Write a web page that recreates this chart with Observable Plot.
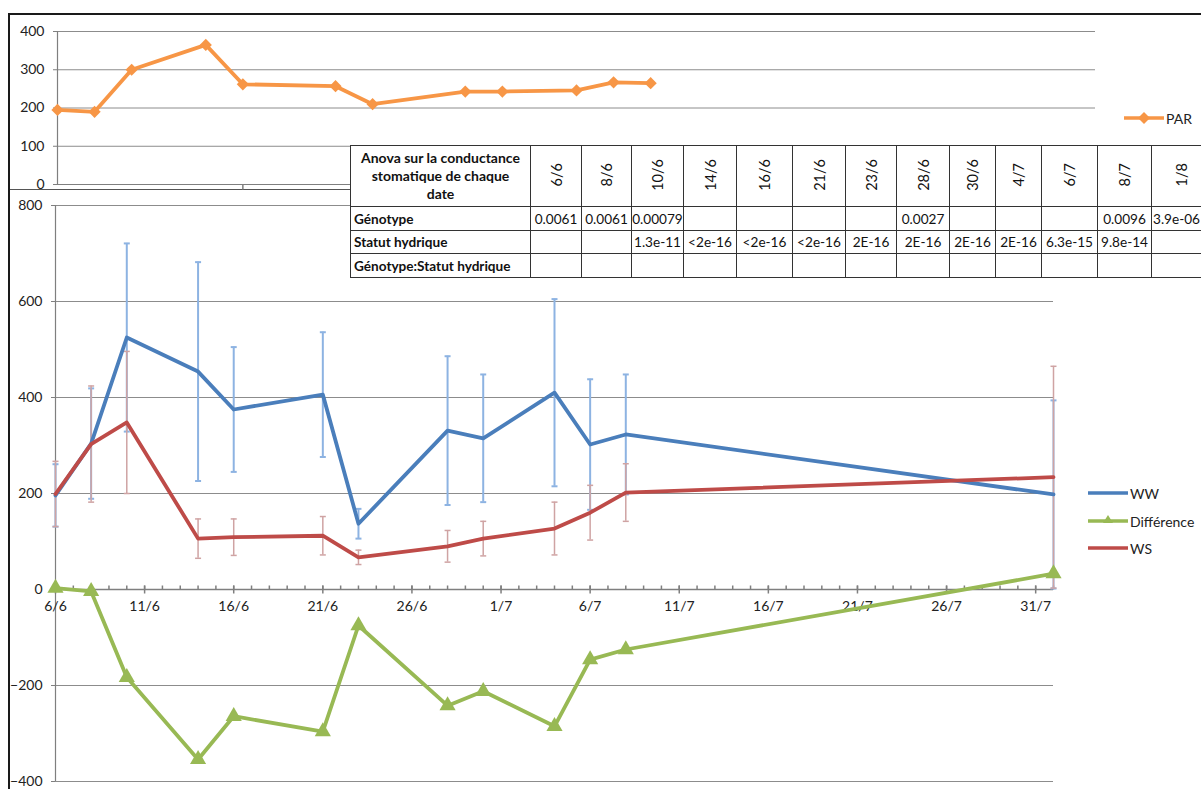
<!DOCTYPE html>
<html>
<head>
<meta charset="utf-8">
<script src="https://cdn.jsdelivr.net/npm/d3@7"></script>
<script src="https://cdn.jsdelivr.net/npm/@observablehq/plot@0.6"></script>
<style>
  body { margin:0; background:#fff; width:1201px; height:789px; overflow:hidden; position:relative; font-family: Lato, "Open Sans", sans-serif; }
  .abs { position:absolute; }
  #frameTop { left:8px; top:13px; width:1300px; height:174px; border-top:2px solid #1a1a1a; border-left:2px solid #1a1a1a; border-bottom:1px solid #555; }
  #frameMain { left:8px; top:188px; width:1300px; height:700px; border-left:2px solid #1a1a1a; }
  #top { left:0; top:0; }
  #main { left:0; top:190px; }
  #anova { left:350px; top:145px; border-collapse:collapse; table-layout:fixed; background:#fff; font-size:13.6px; color:#111; }
  #anova td { border:1px solid #333; padding:0; text-align:center; white-space:nowrap; overflow:hidden; }
  #anova td.lab { text-align:left; font-weight:bold; padding-left:3px; }
  #anova td.title { font-weight:bold; white-space:normal; line-height:18px; font-size:14px; }
  #anova td.last { text-align:left; padding-left:1px; }
  #anova .rot { writing-mode:vertical-rl; transform:rotate(180deg); display:inline-block; font-size:14.5px; }
  .legend { font-size:14px; color:#222; display:flex; align-items:center; height:16px; }
</style>
</head>
<body>
<div id="frameTop" class="abs"></div>
<div id="frameMain" class="abs"></div>
<div id="top" class="abs"></div>
<div id="main" class="abs"></div>
<div id="tableHolder"></div>
<div id="legends"></div>
<script>
// ---------- data ----------
const dates = ["2013-06-06","2013-06-08","2013-06-10","2013-06-14","2013-06-16","2013-06-21","2013-06-23","2013-06-28","2013-06-30","2013-07-04","2013-07-06","2013-07-08","2013-08-01"];
const tableDates = ["6/6","8/6","10/6","14/6","16/6","21/6","23/6","28/6","30/6","4/7","6/7","8/7","1/8"];
const ww     = [196, 304, 525, 454, 375, 406, 137, 331, 315, 410, 302, 323, 198];
const wwErr  = [ 65, 115, 196, 228, 130, 130,  31, 155, 133, 195, 136, 125, 196];
const ws     = [199, 303, 348, 106, 109, 112,  67,  90, 106, 127, 160, 202, 234];
const wsErr  = [ 68, 121, 148,  41,  38,  40,  15,  33,  36,  55,  57,  60, 231];
const diff   = [  3,  -4,-183,-354,-264,-296, -75,-242,-212,-285,-146,-125,  33];
const par    = [195, 190, 300, 365, 262, 257, 210, 243, 243, 246, 267, 265, null];
const yTicksMain = [-400, -200, 0, 200, 400, 600, 800];
const yTicksPar  = [0, 100, 200, 300, 400];
const tableTitle = "Anova sur la conductance<br>stomatique de chaque<br>date";
const rowLabels = ["Génotype", "Statut hydrique", "Génotype:Statut hydrique"];
const pGenotype = ["0.0061","0.0061","0.00079","","","","","0.0027","","","","0.0096","3.9e-06"];
const pStatut   = ["","","1.3e-11","<2e-16","<2e-16","<2e-16","2E-16","2E-16","2E-16","2E-16","6.3e-15","9.8e-14",""];
const pInter    = ["","","","","","","","","","","","",""];
const seriesNames = ["WW", "Différence", "WS"];

// ---------- styles ----------
const C = { ww:"#4A7EBB", ws:"#BE4B48", diff:"#98B954", par:"#F79646", wwErr:"#8DB3E2", wsErr:"#CFA3A3", grid:"#8c8c8c", axis:"#7f7f7f" };
const parseDate = s => new Date(s + "T00:00:00Z");
const xStart = parseDate(dates[0]);
const xEnd = parseDate(dates[dates.length - 1]);
const rows = dates.map((d, i) => ({date: parseDate(d), ww: ww[i], wwErr: wwErr[i], ws: ws[i], wsErr: wsErr[i], diff: diff[i], par: par[i]}));
const fmt = d3.utcFormat("%-d/%-m");

const hbar = { draw(ctx, size) { const r = Math.sqrt(size / Math.PI); ctx.moveTo(-r, 0); ctx.lineTo(r, 0); } };
const vbar = { draw(ctx, size) { const r = Math.sqrt(size / Math.PI); ctx.moveTo(0, -r); ctx.lineTo(0, r); } };

const baseStyle = { background: "none", fontFamily: "Lato, 'Open Sans', sans-serif", fontSize: "14px", color: "#222", overflow: "visible" };

// ---------- top PAR chart ----------
const topChart = Plot.plot({
  width: 1201, height: 190,
  marginLeft: 57, marginRight: 106, marginTop: 31, marginBottom: 6,
  style: baseStyle,
  x: { type: "utc", domain: [xStart, xEnd], axis: null },
  y: { domain: [0, 400], axis: null },
  marks: [
    Plot.gridY(yTicksPar.filter(v => v !== 0), { stroke: C.grid, strokeOpacity: 1 }),
    Plot.ruleY([0], { stroke: C.axis, strokeWidth: 1.2 }),
    Plot.ruleX([xStart], { stroke: C.axis, strokeWidth: 1.2 }),
    Plot.axisY(yTicksPar, { tickSize: 4, tickPadding: 9, label: null, stroke: C.axis }),
    Plot.dot(d3.utcDay.range(xStart, xEnd, 10).slice(1), { x: d => d, y: 0, symbol: vbar, r: 2.5, dy: 2.5, stroke: C.axis }),
    Plot.line(rows.filter(d => d.par != null), { x: "date", y: "par", stroke: C.par, strokeWidth: 3.8 }),
    Plot.dot(rows.filter(d => d.par != null), { x: "date", y: "par", symbol: "diamond2", r: 5.5, fill: C.par, stroke: "none" })
  ]
});
document.getElementById("top").append(topChart);

// ---------- main chart ----------
const majorTicks = d3.utcDay.range(xStart, d3.utcDay.offset(xEnd, 1), 5);
const minorTicks = d3.utcDay.range(xStart, d3.utcDay.offset(xEnd, 1));
const mainChart = Plot.plot({
  width: 1201, height: 599,
  marginLeft: 55, marginRight: 148, marginTop: 15, marginBottom: 8,
  style: baseStyle,
  x: { type: "utc", domain: [xStart, xEnd], axis: null },
  y: { domain: [-400, 800], axis: null },
  marks: [
    Plot.gridY(yTicksMain.filter(v => v !== 0), { stroke: C.grid, strokeOpacity: 1 }),
    Plot.ruleX([xStart], { stroke: C.axis, strokeWidth: 1.2 }),
    Plot.axisY(yTicksMain, { tickSize: 4, tickPadding: 9, label: null, stroke: C.axis }),
    Plot.ruleY([0], { stroke: C.axis, strokeWidth: 1.4 }),
    Plot.dot(minorTicks, { x: d => d, y: 0, symbol: vbar, r: 2, dy: -2, stroke: C.axis }),
    Plot.dot(majorTicks, { x: d => d, y: 0, symbol: vbar, r: 4, stroke: C.axis }),
    Plot.text(majorTicks, { x: d => d, y: 0, text: d => fmt(d), dy: 17, fontSize: 14, fill: "#222" }),
    // error bars WW
    Plot.ruleX(rows, { x: "date", y1: d => d.ww - d.wwErr, y2: d => d.ww + d.wwErr, stroke: C.wwErr, strokeWidth: 2 }),
    Plot.dot(rows, { x: "date", y: d => d.ww + d.wwErr, symbol: hbar, r: 3, stroke: C.wwErr, strokeWidth: 2 }),
    Plot.dot(rows, { x: "date", y: d => d.ww - d.wwErr, symbol: hbar, r: 3, stroke: C.wwErr, strokeWidth: 2 }),
    // error bars WS
    Plot.ruleX(rows, { x: "date", y1: d => d.ws - d.wsErr, y2: d => d.ws + d.wsErr, stroke: C.wsErr, strokeWidth: 1.5 }),
    Plot.dot(rows, { x: "date", y: d => d.ws + d.wsErr, symbol: hbar, r: 3, stroke: C.wsErr, strokeWidth: 1.5 }),
    Plot.dot(rows, { x: "date", y: d => d.ws - d.wsErr, symbol: hbar, r: 3, stroke: C.wsErr, strokeWidth: 1.5 }),
    // lines
    Plot.line(rows, { x: "date", y: "ww", stroke: C.ww, strokeWidth: 3.8 }),
    Plot.line(rows, { x: "date", y: "diff", stroke: C.diff, strokeWidth: 3.8 }),
    Plot.dot(rows, { x: "date", y: "diff", symbol: "triangle", r: 6, fill: C.diff, stroke: "none" }),
    Plot.line(rows, { x: "date", y: "ws", stroke: C.ws, strokeWidth: 3.8 })
  ]
});
document.getElementById("main").append(mainChart);

// ---------- ANOVA table ----------
const colWidths = [180, 51, 50, 52, 53, 56, 53, 51, 53, 46, 46, 56, 54, 60];
const table = document.createElement("table");
table.id = "anova"; table.className = "abs";
table.style.width = d3.sum(colWidths) + "px";
const cg = document.createElement("colgroup");
colWidths.forEach(w => { const c = document.createElement("col"); c.style.width = w + "px"; cg.append(c); });
table.append(cg);
const hdr = table.insertRow(); hdr.style.height = "61px";
const th = hdr.insertCell(); th.className = "title"; th.innerHTML = tableTitle;
tableDates.forEach(t => { const c = hdr.insertCell(); const s = document.createElement("span"); s.className = "rot"; s.textContent = t; c.append(s); });
[pGenotype, pStatut, pInter].forEach((vals, k) => {
  const r = table.insertRow(); r.style.height = (k === 1 ? 23 : 24) + "px";
  const l = r.insertCell(); l.className = "lab"; l.textContent = rowLabels[k];
  vals.forEach((v, j) => { const c = r.insertCell(); c.textContent = v; if (j === vals.length - 1) c.className = "last"; });
});
document.getElementById("tableHolder").append(table);

// ---------- legends ----------
const legendHolder = document.getElementById("legends");
function legendItem(x, y, color, name, marker) {
  const div = document.createElement("div");
  div.className = "abs legend";
  div.style.left = x + "px"; div.style.top = (y - 8) + "px";
  let m = "";
  if (marker === "triangle") m = `<path d="M20,2 L25,10 L15,10 Z" fill="${color}"/>`;
  if (marker === "diamond") m = `<path d="M20,2 L26,8 L20,14 L14,8 Z" fill="${color}"/>`;
  div.innerHTML = `<svg width="40" height="16" style="display:block"><line x1="0" x2="40" y1="8" y2="8" stroke="${color}" stroke-width="3.5"/>${m}</svg><span style="margin-left:2px">${name}</span>`;
  legendHolder.append(div);
}
legendItem(1088, 493, C.ww, seriesNames[0]);
legendItem(1088, 521, C.diff, seriesNames[1], "triangle");
legendItem(1088, 548, C.ws, seriesNames[2]);
legendItem(1124, 118, C.par, "PAR", "diamond");
</script>
</body>
</html>
